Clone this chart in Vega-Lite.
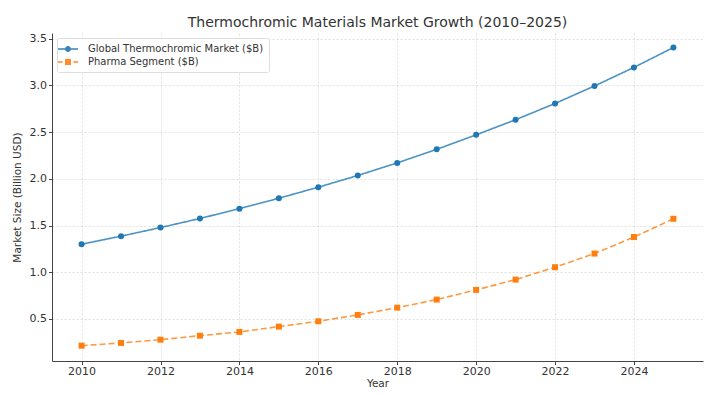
{
  "$schema": "https://vega.github.io/schema/vega-lite/v6.json",
  "width": 651,
  "height": 328,
  "autosize": "none",
  "padding": {"left": 52, "top": 33, "right": 12, "bottom": 34},
  "background": "white",
  "title": {"text": "Thermochromic Materials Market Growth (2010–2025)", "font": "DejaVu Sans", "fontSize": 14, "fontWeight": "normal", "color": "#333333", "offset": 3, "anchor": "middle"},
  "config": {
    "view": {"stroke": null},
    "font": "DejaVu Sans",
    "axis": {
      "labelFont": "DejaVu Sans", "labelFontSize": 11, "labelColor": "#333333",
      "titleFont": "DejaVu Sans", "titleFontSize": 10.5, "titleFontWeight": "normal", "titleColor": "#333333",
      "domainColor": "#444444", "tickColor": "#444444", "tickSize": 3.5,
      "gridColor": "#d9d9d9", "gridDash": [2, 2], "gridWidth": 0.8
    }
  },
  "data": {"values": [
    {"year": 2010, "series": "Global Thermochromic Market ($B)", "value": 1.30},
    {"year": 2011, "series": "Global Thermochromic Market ($B)", "value": 1.386},
    {"year": 2012, "series": "Global Thermochromic Market ($B)", "value": 1.478},
    {"year": 2013, "series": "Global Thermochromic Market ($B)", "value": 1.575},
    {"year": 2014, "series": "Global Thermochromic Market ($B)", "value": 1.68},
    {"year": 2015, "series": "Global Thermochromic Market ($B)", "value": 1.792},
    {"year": 2016, "series": "Global Thermochromic Market ($B)", "value": 1.910},
    {"year": 2017, "series": "Global Thermochromic Market ($B)", "value": 2.035},
    {"year": 2018, "series": "Global Thermochromic Market ($B)", "value": 2.170},
    {"year": 2019, "series": "Global Thermochromic Market ($B)", "value": 2.315},
    {"year": 2020, "series": "Global Thermochromic Market ($B)", "value": 2.470},
    {"year": 2021, "series": "Global Thermochromic Market ($B)", "value": 2.632},
    {"year": 2022, "series": "Global Thermochromic Market ($B)", "value": 2.806},
    {"year": 2023, "series": "Global Thermochromic Market ($B)", "value": 2.993},
    {"year": 2024, "series": "Global Thermochromic Market ($B)", "value": 3.192},
    {"year": 2025, "series": "Global Thermochromic Market ($B)", "value": 3.405},
    {"year": 2010, "series": "Pharma Segment ($B)", "value": 0.214},
    {"year": 2011, "series": "Pharma Segment ($B)", "value": 0.243},
    {"year": 2012, "series": "Pharma Segment ($B)", "value": 0.278},
    {"year": 2013, "series": "Pharma Segment ($B)", "value": 0.321},
    {"year": 2014, "series": "Pharma Segment ($B)", "value": 0.361},
    {"year": 2015, "series": "Pharma Segment ($B)", "value": 0.418},
    {"year": 2016, "series": "Pharma Segment ($B)", "value": 0.475},
    {"year": 2017, "series": "Pharma Segment ($B)", "value": 0.543},
    {"year": 2018, "series": "Pharma Segment ($B)", "value": 0.621},
    {"year": 2019, "series": "Pharma Segment ($B)", "value": 0.707},
    {"year": 2020, "series": "Pharma Segment ($B)", "value": 0.811},
    {"year": 2021, "series": "Pharma Segment ($B)", "value": 0.921},
    {"year": 2022, "series": "Pharma Segment ($B)", "value": 1.054},
    {"year": 2023, "series": "Pharma Segment ($B)", "value": 1.200},
    {"year": 2024, "series": "Pharma Segment ($B)", "value": 1.376},
    {"year": 2025, "series": "Pharma Segment ($B)", "value": 1.572}
  ]},
  "encoding": {
    "x": {"field": "year", "type": "quantitative", "scale": {"domain": [2009.25, 2025.75], "nice": false, "zero": false},
      "axis": {"values": [2010, 2012, 2014, 2016, 2018, 2020, 2022, 2024], "format": "d", "title": "Year", "titlePadding": 2, "labelPadding": 1}},
    "y": {"field": "value", "type": "quantitative", "scale": {"domain": [0.05, 3.56], "nice": false, "zero": false},
      "axis": {"values": [0.5, 1.0, 1.5, 2.0, 2.5, 3.0, 3.5], "format": ".1f", "title": "Market Size (Billion USD)", "titlePadding": 7, "labelPadding": 2}}
  },
  "resolve": {"scale": {"color": "independent", "shape": "independent", "strokeDash": "independent"}, "legend": {"color": "independent", "shape": "independent", "strokeDash": "independent"}},
  "layer": [
    {
      "mark": {"type": "line", "strokeWidth": 1.6, "opacity": 0.8},
      "encoding": {
        "color": {"field": "series", "type": "nominal", "scale": {"domain": ["Global Thermochromic Market ($B)", "Pharma Segment ($B)"], "range": ["#1f77b4", "#ff7f0e"]}, "legend": null},
        "strokeDash": {"field": "series", "type": "nominal", "scale": {"domain": ["Global Thermochromic Market ($B)", "Pharma Segment ($B)"], "range": [[1, 0], [6, 3]]}, "legend": null}
      }
    },
    {
      "mark": {"type": "point", "filled": true, "size": 36, "opacity": 1},
      "encoding": {
        "color": {"field": "series", "type": "nominal", "scale": {"domain": ["Global Thermochromic Market ($B)", "Pharma Segment ($B)"], "range": ["#1f77b4", "#ff7f0e"]}, "legend": null},
        "shape": {"field": "series", "type": "nominal", "scale": {"domain": ["Global Thermochromic Market ($B)", "Pharma Segment ($B)"], "range": ["circle", "square"]}, "legend": null}
      }
    },
    {
      "transform": [{"filter": "datum.year < 0"}],
      "mark": {"type": "point", "filled": true, "opacity": 0.9, "strokeWidth": 0},
      "encoding": {
        "color": {"field": "series", "type": "nominal",
          "scale": {"domain": ["Global Thermochromic Market ($B)", "Pharma Segment ($B)"], "range": ["#1f77b4", "#ff7f0e"]},
          "legend": {"title": null, "orient": "top-left", "offset": 5, "labelFont": "DejaVu Sans", "labelFontSize": 10, "labelColor": "#333333", "labelLimit": 400,
            "symbolSize": 144, "symbolStrokeWidth": 0, "rowPadding": 2, "labelOffset": 14,
            "strokeColor": "#dddddd", "fillColor": "white", "padding": 5, "cornerRadius": 2}},
        "shape": {"field": "series", "type": "nominal",
          "scale": {"domain": ["Global Thermochromic Market ($B)", "Pharma Segment ($B)"], "range": [
            "M-1.67,-0.13H-0.5V0.13H-1.67ZM0.5,-0.13H1.67V0.13H0.5ZM-0.5,0A0.5,0.5 0 1,1 0.5,0A0.5,0.5 0 1,1 -0.5,0Z",
            "M-1.67,-0.13H-0.9V0.13H-1.67ZM0.9,-0.13H1.67V0.13H0.9ZM-0.5,-0.5H0.5V0.5H-0.5Z"]},
          "legend": {"title": null, "orient": "top-left", "offset": 5, "labelFont": "DejaVu Sans", "labelFontSize": 10, "labelColor": "#333333", "labelLimit": 400,
            "symbolSize": 144, "symbolStrokeWidth": 0, "rowPadding": 2, "labelOffset": 14,
            "strokeColor": "#dddddd", "fillColor": "white", "padding": 5, "cornerRadius": 2}}
      }
    }
  ]
}
